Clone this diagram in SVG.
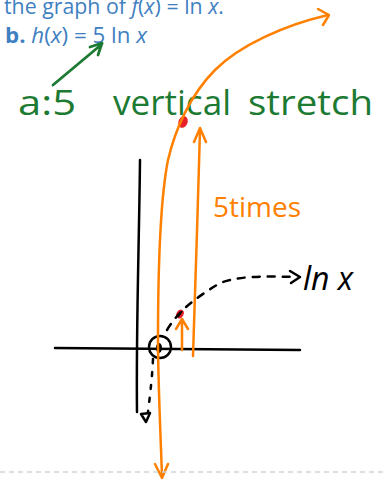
<svg xmlns="http://www.w3.org/2000/svg" width="387" height="480" viewBox="0 0 387 480">
<style>
.book{font-family:"Open Sans","Liberation Sans",sans-serif;fill:#3f80c2;font-size:21px}
.hand{font-family:"Open Sans","DejaVu Sans",sans-serif;font-weight:400}
.or{fill:none;stroke:#ff8000;stroke-width:2.5;stroke-linecap:round;stroke-linejoin:round}
.bk{fill:none;stroke:#000;stroke-width:2.5;stroke-linecap:round;stroke-linejoin:round}
.gr{fill:none;stroke:#1c7a32;stroke-width:2.8;stroke-linecap:round;stroke-linejoin:round}
</style>
<rect width="387" height="480" fill="#fff"/>
<g id="header">
<text class="book" x="4" y="14" textLength="220" lengthAdjust="spacingAndGlyphs">the graph of <tspan font-style="italic">f</tspan>(<tspan font-style="italic">x</tspan>) = ln <tspan font-style="italic">x</tspan>.</text>
<text class="book" x="5" y="43" textLength="142" lengthAdjust="spacingAndGlyphs"><tspan font-weight="bold">b.</tspan>  <tspan font-style="italic">h</tspan>(<tspan font-style="italic">x</tspan>) = 5 ln <tspan font-style="italic">x</tspan></text>
</g>
<g id="annotation">
<text class="hand" fill="#1c7a32" font-size="34" y="115"><tspan x="18" textLength="58" lengthAdjust="spacingAndGlyphs">a:5</tspan><tspan x="113" textLength="118" lengthAdjust="spacingAndGlyphs">vertical</tspan><tspan x="248" textLength="125" lengthAdjust="spacingAndGlyphs">stretch</tspan></text>
</g>
<g id="axes">
<path class="bk" d="M140,160 C139,250 136,330 137,412"/>
<path class="bk" d="M55,348 L300,350"/>
</g>
<g id="origin">
<circle cx="160" cy="347" r="11" class="bk"/>
<ellipse cx="159" cy="348" rx="3" ry="5" fill="#000"/>
</g>
<g id="label-5times">
<text class="hand" fill="#ff8000" font-size="27" x="213" y="217" font-weight="300" textLength="88" lengthAdjust="spacingAndGlyphs">5times</text>
</g>
<g id="label-lnx">
<text class="hand" fill="#000" font-size="32" x="303" y="290" font-style="italic">ln x</text>
</g>
<g id="points">
<ellipse cx="183" cy="122" rx="4.5" ry="6" fill="#e8202a" transform="rotate(25 183 122)"/>
<ellipse cx="180" cy="314" rx="3.5" ry="4.5" fill="#e8202a" transform="rotate(30 180 314)"/>
<path d="M178,317 L182,311" stroke="#000" stroke-width="1.5"/>
</g>
<g id="connectors">
<path class="gr" d="M53,85 L102,44 M90,47 L102,43 L98,55"/>
<path class="or" d="M162,476 C160,420 158,380 158,340 C158,280 160,200 168,160 C175,130 190,95 215,70 C240,45 285,25 328,15"/>
<path class="or" d="M318,9 L329,15 L323,25"/>
<path class="or" d="M155,464 L162,478 L168,464"/>
<path class="or" d="M193,356 C195,300 198,200 200,130 M194,142 L200,128 L206,142"/>
<path class="or" d="M182,350 L182,320 M176,329 L182,319 L188,329"/>
<path class="bk" d="M167,330 C178,312 192,300 220,283 C240,276 260,276 296,277" stroke-dasharray="7,8"/>
<path class="bk" d="M290,271 L300,277 L291,283"/>
<path class="bk" d="M153,359 C152,380 150,395 148,412" stroke-dasharray="4,9"/>
<path class="bk" d="M141,414 L150,413 L146,422 Z" stroke-width="2"/>
</g>
<g id="divider">
<path d="M0,472 L387,472" stroke="#ccd6e0" stroke-width="1.5" stroke-dasharray="5,4"/>
</g>
</svg>
